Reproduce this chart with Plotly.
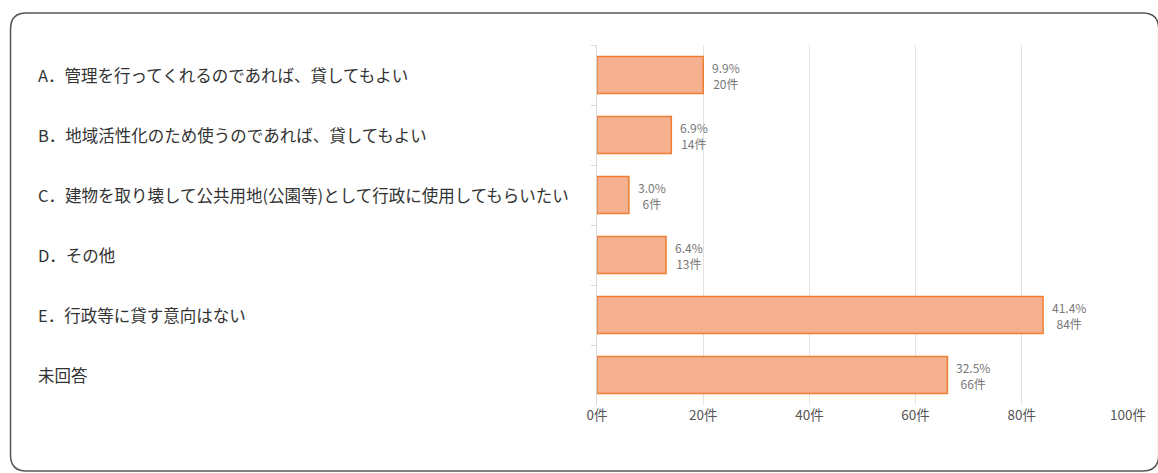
import plotly.graph_objects as go

categories = [
    "A．管理を行ってくれるのであれば、貸してもよい",
    "B．地域活性化のため使うのであれば、貸してもよい",
    "C．建物を取り壊して公共用地(公園等)として行政に使用してもらいたい",
    "D．その他",
    "E．行政等に貸す意向はない",
    "未回答",
]
counts = [20, 14, 6, 13, 84, 66]
percents = ["9.9%", "6.9%", "3.0%", "6.4%", "41.4%", "32.5%"]
tick_vals = [0, 20, 40, 60, 80, 100]
tick_text = ["0件", "20件", "40件", "60件", "80件", "100件"]

W, H = 1158, 473
L, R, T, B = 597, 25, 45, 68
PW, PH = W - L - R, H - T - B

def px(x):
    return (x - L) / PW

def py(y):
    return (H - B - y) / PH

FONT = "Noto Sans CJK JP, Noto Sans, sans-serif"

fig = go.Figure()
fig.add_trace(go.Bar(
    x=counts, y=categories, orientation="h",
    marker=dict(color="#f5b08f", line=dict(color="#ed7d31", width=1.5)),
    width=0.62, hoverinfo="skip",
))

annotations = []
for c, v, p in zip(categories, counts, percents):
    annotations.append(dict(
        x=v, y=c, xref="x", yref="y", text=f"{p}<br>{v}件",
        showarrow=False, xanchor="left", xshift=7, align="center",
        font=dict(size=12, color="#777777", family=FONT),
    ))
    annotations.append(dict(
        x=px(31), y=c, xref="paper", yref="y", text=c,
        showarrow=False, xanchor="left", align="left",
        font=dict(size=16.5, color="#333333", family=FONT),
    ))

# rounded frame
x0, x1, y0, y1, r = 5, 1164, 13, 471, 16
path = (
    f"M {px(x0 + r)} {py(y0)} L {px(x1 - r)} {py(y0)} "
    f"Q {px(x1)} {py(y0)} {px(x1)} {py(y0 + r)} "
    f"L {px(x1)} {py(y1 - r)} Q {px(x1)} {py(y1)} {px(x1 - r)} {py(y1)} "
    f"L {px(x0 + r)} {py(y1)} Q {px(x0)} {py(y1)} {px(x0)} {py(y1 - r)} "
    f"L {px(x0)} {py(y0 + r)} Q {px(x0)} {py(y0)} {px(x0 + r)} {py(y0)} Z"
)

fig.update_layout(
    width=W, height=H,
    margin=dict(l=L, r=R, t=T, b=B),
    paper_bgcolor="#ffffff", plot_bgcolor="#ffffff",
    showlegend=False,
    annotations=annotations,
    shapes=[dict(type="path", path=path, xref="paper", yref="paper",
                 line=dict(color="#555555", width=1.5), layer="below")],
    xaxis=dict(range=[0, 100], tickvals=tick_vals, ticktext=tick_text,
               showgrid=True, gridcolor="#e3e3e3", gridwidth=1,
               zeroline=False, showline=False, ticks="",
               tickfont=dict(size=13.5, color="#555555", family=FONT)),
    yaxis=dict(categoryorder="array", categoryarray=categories,
               autorange="reversed", showticklabels=False,
               showline=True, linecolor="#d9d9d9", linewidth=1,
               ticks="outside", tickson="boundaries", ticklen=5,
               tickcolor="#d9d9d9", showgrid=False),
    bargap=0.38,
)

fig.write_html("out.html", config={"displayModeBar": False},
               post_script="document.body.style.margin='0';document.body.style.overflow='hidden';")
